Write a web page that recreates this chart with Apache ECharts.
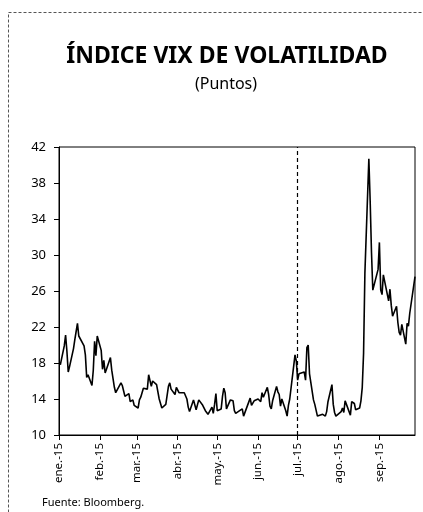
<!DOCTYPE html>
<html>
<head>
<meta charset="utf-8">
<script src="https://cdn.jsdelivr.net/npm/echarts@6/dist/echarts.min.js"></script>
<style>
  html, body { margin: 0; padding: 0; background: #fff; }
  #main { width: 423px; height: 512px; }
</style>
</head>
<body>
<div id="main"></div>
<script>
// fechas (días hábiles) y cierre del VIX
var dates = [
  '2015-01-02','2015-01-05','2015-01-06','2015-01-07','2015-01-08','2015-01-09','2015-01-12','2015-01-13','2015-01-14','2015-01-15',
  '2015-01-16','2015-01-20','2015-01-21','2015-01-22','2015-01-23','2015-01-26','2015-01-27','2015-01-28','2015-01-29','2015-01-30',
  '2015-02-02','2015-02-03','2015-02-04','2015-02-05','2015-02-06','2015-02-09','2015-02-10','2015-02-11','2015-02-12','2015-02-13',
  '2015-02-17','2015-02-18','2015-02-19','2015-02-20','2015-02-23','2015-02-24','2015-02-25','2015-02-26','2015-02-27',
  '2015-03-02','2015-03-03','2015-03-04','2015-03-05','2015-03-06','2015-03-09','2015-03-10','2015-03-11','2015-03-12','2015-03-13',
  '2015-03-16','2015-03-17','2015-03-18','2015-03-19','2015-03-20','2015-03-23','2015-03-24','2015-03-25','2015-03-26','2015-03-27',
  '2015-03-30','2015-03-31',
  '2015-04-01','2015-04-02','2015-04-06','2015-04-07','2015-04-08','2015-04-09','2015-04-10','2015-04-13','2015-04-14','2015-04-15',
  '2015-04-16','2015-04-17','2015-04-20','2015-04-21','2015-04-22','2015-04-23','2015-04-24','2015-04-27','2015-04-28','2015-04-29',
  '2015-04-30',
  '2015-05-01','2015-05-04','2015-05-05','2015-05-06','2015-05-07','2015-05-08','2015-05-11','2015-05-12','2015-05-13','2015-05-14',
  '2015-05-15','2015-05-18','2015-05-19','2015-05-20','2015-05-21','2015-05-22','2015-05-26','2015-05-27','2015-05-28','2015-05-29',
  '2015-06-01','2015-06-02','2015-06-03','2015-06-04','2015-06-05','2015-06-08','2015-06-09','2015-06-10','2015-06-11','2015-06-12',
  '2015-06-15','2015-06-16','2015-06-17','2015-06-18','2015-06-19','2015-06-22','2015-06-23','2015-06-24','2015-06-25','2015-06-26',
  '2015-06-29','2015-06-30',
  '2015-07-01','2015-07-02','2015-07-06','2015-07-07','2015-07-08','2015-07-09','2015-07-10','2015-07-13','2015-07-14','2015-07-15',
  '2015-07-16','2015-07-17','2015-07-20','2015-07-21','2015-07-22','2015-07-23','2015-07-24','2015-07-27','2015-07-28','2015-07-29',
  '2015-07-30','2015-07-31',
  '2015-08-03','2015-08-04','2015-08-05','2015-08-06','2015-08-07','2015-08-10','2015-08-11','2015-08-12','2015-08-13','2015-08-14',
  '2015-08-17','2015-08-18','2015-08-19','2015-08-20','2015-08-21','2015-08-24','2015-08-25','2015-08-26','2015-08-27','2015-08-28',
  '2015-08-31',
  '2015-09-01','2015-09-02','2015-09-03','2015-09-04','2015-09-08','2015-09-09','2015-09-10','2015-09-11','2015-09-14','2015-09-15',
  '2015-09-16','2015-09-17','2015-09-18','2015-09-21','2015-09-22','2015-09-23','2015-09-24','2015-09-25','2015-09-28'
];
var vix = [
  17.8, 19.9, 21.1, 19.3, 17.0, 17.6, 19.6, 20.6, 21.5, 22.4,
  21.0, 19.9, 18.9, 16.4, 16.7, 15.5, 17.2, 20.4, 18.8, 21.0,
  19.4, 17.3, 18.3, 16.9, 17.3, 18.6, 17.2, 17.0, 15.3, 14.7,
  15.8, 15.5, 15.3, 14.3, 14.6, 13.7, 13.8, 13.9, 13.3,
  13.0, 13.9, 14.2, 14.0, 15.2, 15.1, 16.7, 16.9, 15.4, 16.0,
  15.6, 15.7, 14.0, 14.1, 13.0, 13.4, 13.6, 15.4, 15.8, 15.1,
  14.5, 15.3,
  15.1, 14.7, 14.7, 14.8, 14.0, 13.1, 12.6, 13.9, 13.7, 12.8,
  12.6, 13.9, 13.3, 13.3, 12.7, 12.5, 12.3, 13.1, 12.4, 13.4,
  14.6,
  12.7, 12.9, 14.3, 15.2, 14.7, 12.9, 13.9, 13.9, 13.8, 12.7,
  12.4, 12.7, 12.9, 12.9, 12.1, 12.1, 14.1, 13.3, 13.3, 13.8,
  14.0, 14.2, 13.7, 14.7, 14.2, 15.3, 14.5, 13.2, 12.9, 13.8,
  15.4, 14.8, 14.5, 13.2, 14.0, 12.7, 12.1, 13.3, 14.0, 14.0,
  18.9, 18.2,
  16.1, 16.8, 17.0, 16.1, 19.7, 20.0, 16.8, 13.9, 13.4, 13.2,
  12.1, 12.0, 12.3, 12.2, 12.1, 12.6, 13.7, 15.6, 13.4, 12.5,
  12.1, 12.1,
  12.6, 13.0, 12.5, 13.8, 13.4, 12.2, 13.7, 13.6, 13.5, 12.8,
  13.0, 13.8, 15.3, 19.1, 28.0, 40.7, 36.0, 30.3, 26.1, 26.1,
  28.4,
  31.4, 26.1, 25.6, 27.8, 24.9, 26.2, 24.4, 23.2, 24.3, 22.5,
  21.4, 21.1, 22.3, 20.1, 22.4, 22.1, 23.5, 23.6, 27.6
];
var monthLabels = ['ene.-15', 'feb.-15', 'mar.-15', 'abr.-15', 'may.-15', 'jun.-15', 'jul.-15', 'ago.-15', 'sep.-15'];
var monthStart = ['2015-01-01', '2015-02-01', '2015-03-01', '2015-04-01', '2015-05-01', '2015-06-01', '2015-07-01', '2015-08-01', '2015-09-01'];
var lastDay = '2015-09-28';
var yTicks = [10, 14, 18, 22, 26, 30, 34, 38, 42];

// días transcurridos desde el 1 de enero
function dayNum(s) {
  return Math.round((Date.UTC(+s.slice(0, 4), +s.slice(5, 7) - 1, +s.slice(8, 10)) - Date.UTC(2015, 0, 1)) / 86400000);
}
var monthPos = monthStart.map(dayNum);
var seriesData = dates.map(function (d, i) { return [dayNum(d), vix[i]]; });

var chart = echarts.init(document.getElementById('main'));
chart.setOption({
  backgroundColor: '#fff',
  animation: false,
  graphic: [
    { type: 'rect', shape: { x: 8.5, y: 12.5, width: 430, height: 520 },
      style: { fill: 'none', stroke: '#555', lineWidth: 1, lineDash: [3, 2] } }
  ],
  title: [
    { text: 'ÍNDICE VIX DE VOLATILIDAD', left: 222, textAlign: 'center', top: 40,
      textStyle: { fontFamily: 'Noto Sans', fontWeight: 'bold', fontSize: 23, color: '#000' } },
    { text: '(Puntos)', left: 221, textAlign: 'center', top: 71,
      textStyle: { fontFamily: 'Noto Sans', fontWeight: 'normal', fontSize: 16, color: '#000' } },
    { text: 'Fuente: Bloomberg.', left: 37, top: 492,
      textStyle: { fontFamily: 'Noto Sans', fontWeight: 'normal', fontSize: 11, color: '#000' } }
  ],
  grid: {
    left: 59, right: 8, top: 147, bottom: 77,
    show: true, borderColor: '#000', borderWidth: 1
  },
  xAxis: {
    type: 'value',
    min: 0,
    max: dayNum(lastDay),
    axisLine: { lineStyle: { color: '#000', width: 1 } },
    axisTick: { show: true, length: 5, customValues: monthPos, lineStyle: { color: '#000' } },
    axisLabel: {
      customValues: monthPos,
      rotate: 90,
      margin: 8,
      fontFamily: 'Noto Sans',
      fontSize: 11.5,
      color: '#000',
      formatter: function (v) {
        var idx = monthPos.indexOf(v);
        return idx >= 0 ? monthLabels[idx] : '';
      }
    },
    splitLine: { show: false }
  },
  yAxis: {
    type: 'value',
    min: yTicks[0],
    max: yTicks[yTicks.length - 1],
    interval: 4,
    axisLine: { show: true, lineStyle: { color: '#000', width: 1 } },
    axisTick: { show: true, length: 5, lineStyle: { color: '#000' } },
    axisLabel: { fontFamily: 'Noto Sans', fontSize: 13, color: '#000', margin: 13 },
    splitLine: { show: false }
  },
  series: [{
    type: 'line',
    data: seriesData,
    showSymbol: false,
    lineStyle: { color: '#000', width: 1.6 },
    markLine: {
      silent: true,
      symbol: ['none', 'none'],
      label: { show: false },
      lineStyle: { color: '#000', type: [4, 3], width: 1.2 },
      data: [{ xAxis: monthPos[6] }]
    }
  }]
});
</script>
</body>
</html>
